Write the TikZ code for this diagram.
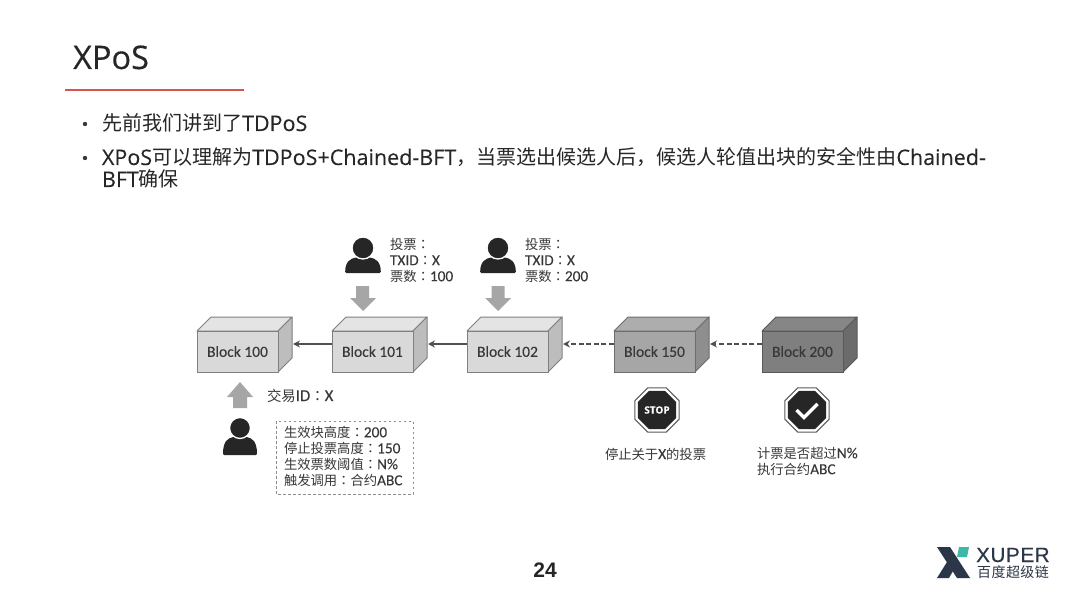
\documentclass[tikz,border=0pt]{standalone}
\usepackage{fontspec}
\usetikzlibrary{arrows.meta,shapes.geometric}
\setmainfont{Carlito}[FakeBold=0.12]
\newfontfamily\zhf{Noto Sans CJK SC}[Scale=0.87]
\newfontfamily\tcf{Noto Sans CJK TC}[Scale=0.87]
\newfontfamily\bodyf{Open Sans}[FakeBold=0.12]
\newfontfamily\titlef{Open Sans}[FakeBold=0.35]
\newfontfamily\heroslike{Liberation Sans}
\newfontfamily\logof{Liberation Sans}[FakeBold=0.5,LetterSpace=3]
\newfontfamily\logozh{Noto Sans CJK SC}[LetterSpace=3]
\newcommand\zh[1]{{\zhf #1}}
\newcommand\zb[1]{{\zhf\fontsize{23}{23}\selectfont #1}}
\newcommand\co{{\tcf ：}}
\AtBeginDocument{\lineskiplimit=-100pt\relax}
\definecolor{ink}{HTML}{383838}
\definecolor{dark}{HTML}{262626}
\definecolor{navy}{HTML}{2B3648}
\definecolor{teal2}{HTML}{3DB8A8}
\definecolor{rulered}{HTML}{D9534F}
\definecolor{arrowgrey}{HTML}{505050}
\definecolor{lf}{HTML}{D9D9D9}\definecolor{lt}{HTML}{E4E4E4}\definecolor{ls}{HTML}{BDBDBD}\definecolor{lb}{HTML}{7F7F7F}
\definecolor{mf}{HTML}{A6A6A6}\definecolor{mt}{HTML}{ADADAD}\definecolor{ms}{HTML}{8E8E8E}\definecolor{mb}{HTML}{6E6E6E}
\definecolor{hf}{HTML}{7F7F7F}\definecolor{ht}{HTML}{868686}\definecolor{hs}{HTML}{6B6B6B}\definecolor{hb}{HTML}{595959}
\tikzset{
  x=1pt,y=-1pt,
  lbl/.style={inner sep=0pt,outer sep=0pt,text=ink,align=left,anchor=north west,
    font=\fontsize{15.3}{16}\selectfont},
  blockface/.style={draw=#1,line width=1pt,minimum width=81pt,minimum height=41pt,
    inner sep=0pt,outer sep=0pt,text=ink,font=\fontsize{15.5}{18}\selectfont},
  link/.style={draw=arrowgrey,line width=1.6pt,-{Stealth[length=7pt,width=7pt]}},
  dlink/.style={link,dash pattern=on 5pt off 2.6pt},
  bigarrow/.style={fill=black!35,draw=none},
  octo/.style={regular polygon,regular polygon sides=8,inner sep=0pt,outer sep=0pt},
  bullet/.style={circle,fill=ink,inner sep=0pt,minimum size=4.4pt},
  body/.style={inner sep=0pt,outer sep=0pt,text=dark,align=left,anchor=base west,
    font=\bodyf\fontsize{21.5}{23}\selectfont},
}
% name, left x, colour prefix, text
\newcommand\blockbox[4]{%
  \fill[#3t,draw=#3b,line width=1pt,line join=round] (#2,331) -- (#2+14,317) -- (#2+95,317) -- (#2+81,331) -- cycle;
  \fill[#3s,draw=#3b,line width=1pt,line join=round] (#2+81,331) -- (#2+95,317) -- (#2+95,358) -- (#2+81,372) -- cycle;
  \node[blockface=#3b,fill=#3f,anchor=north west] (#1) at (#2,331) {#4};
  \coordinate (#1in) at (#2+96,344);
  \coordinate (#1out) at (#2,344);
}
\newcommand\personicon[4]{% cx, headcy, r, bottom
  \fill[dark,rounded corners=1.2pt] (#1-#3*1.62,#4) .. controls (#1-#3*1.62,#2+#3*1.2) and (#1-#3*1.1,#2+#3*0.95) .. (#1-#3*0.55,#2+#3*0.85)
    -- (#1+#3*0.55,#2+#3*0.85) .. controls (#1+#3*1.1,#2+#3*0.95) and (#1+#3*1.62,#2+#3*1.2) .. (#1+#3*1.62,#4) -- cycle;
  \fill[dark,draw=white,line width=1.3pt] (#1,#2) circle[radius=#3];
}
\begin{document}
\begin{tikzpicture}
\useasboundingbox (0,0) rectangle (1080,607);
\fill[white] (0,0) rectangle (1080,607);

% header
\node[inner sep=0pt,anchor=base west,text=dark,font=\titlef\fontsize{32.5}{36}\selectfont] (title) at (73,69) {XPoS};
\draw[draw=rulered,line width=1.6pt] (65,90) -- (244,90);

\node[bullet] (b1) at (85,124) {};
\node[bullet] (b2) at (85,158) {};
\node[body] (t1) at (102,131) {\zb{先前我们讲到了}TDPoS};
\node[body] (t2) at (102,165) {XPoS\zb{可以理解为}TDPoS+Chained-BFT\zb{，当票选出候选人后，候选人轮值出块的安全性由}Chained-};
\node[body] (t3) at (102,187) {BFT\zb{确保}};

% blocks
\blockbox{a}{197}{l}{Block 100}
\blockbox{b}{332}{l}{Block 101}
\blockbox{c}{467}{l}{Block 102}
\blockbox{d}{614}{m}{Block 150}
\blockbox{e}{762}{h}{Block 200}

% connectors
\draw[link] (bout) -- (ain);
\draw[link] (cout) -- (bin);
\draw[dlink] (dout) -- (cin);
\draw[dlink] (eout) -- (din);

% voters
\personicon{363}{248}{11}{273}
\personicon{498}{248}{11}{273}
\personicon{240}{428}{10.5}{455}

\fill[bigarrow] (356,286) -- (369,286) -- (369,298) -- (376,298) -- (363,311) -- (350,298) -- (356,298) -- cycle;
\fill[bigarrow] (491.5,286) -- (504.5,286) -- (504.5,298) -- (511,298) -- (498,311) -- (485,298) -- (491.5,298) -- cycle;
\fill[bigarrow] (233,408) -- (247,408) -- (247,397) -- (253,397) -- (240,382) -- (227,397) -- (233,397) -- cycle;

\node[lbl] (v1) at (390,238) {\zh{投票}\co\\TXID\co X\\\zh{票数}\co 100};
\node[lbl] (v2) at (525,238) {\zh{投票}\co\\TXID\co X\\\zh{票数}\co 200};
\node[lbl,anchor=base west,font=\fontsize{16.6}{18}\selectfont] (tx) at (267,401) {\zh{交易}ID\co X};

% contract box
\draw[draw=black!45,line width=1pt,dash pattern=on 2.5pt off 2.5pt] (276,421) rectangle (413,494);
\node[lbl] (ct) at (284,426) {\zh{生效块高度}\co 200\\\zh{停止投票高度}\co 150\\\zh{生效票数阈值}\co N\%\\\zh{触发调用}\co\zh{合约}ABC};

% stop sign
\node[octo,draw=black!65,line width=1pt,fill=white,minimum size=48pt] (stopout) at (657,410) {};
\node[octo,fill=dark,minimum size=41.5pt,text=white,font=\bodyf\bfseries\fontsize{10}{12}\selectfont] (stopin) at (657,410) {STOP};
% check sign
\node[octo,draw=black!65,line width=1pt,fill=white,minimum size=48pt] (okout) at (807,410) {};
\node[octo,fill=dark,minimum size=41.5pt] (okin) at (807,410) {};
\draw[white,line width=3.2pt] (796.5,410) -- (804,417.5) -- (817.5,404);

\node[lbl,anchor=base west] (st) at (605,459) {\zh{停止关于}X\zh{的投票}};
\node[lbl] (ok) at (757,447) {\zh{计票是否超过}N\%\\\zh{执行合约}ABC};

% page number
\node[inner sep=0pt,anchor=base,text=dark,font=\heroslike\bfseries\fontsize{21}{24}\selectfont] (pg) at (545,577) {24};

% logo
\fill[navy] (937,547) -- (950,547) -- (970,578) -- (957,578) -- cycle;
\fill[navy] (937,578) -- (947,562) -- (953,571) -- (949,578) -- cycle;
\fill[teal2] (959,547) -- (969,547) -- (967,557) -- (957,557) -- cycle;
\node[inner sep=0pt,anchor=base west,text=navy,font=\logof\fontsize{20.6}{22}\selectfont] (xu) at (976,562) {XUPER};
\node[inner sep=0pt,anchor=base west,text=navy,font=\logozh\fontsize{14}{16}\selectfont] (bd) at (977,577) {百度超级链};
\end{tikzpicture}
\end{document}
